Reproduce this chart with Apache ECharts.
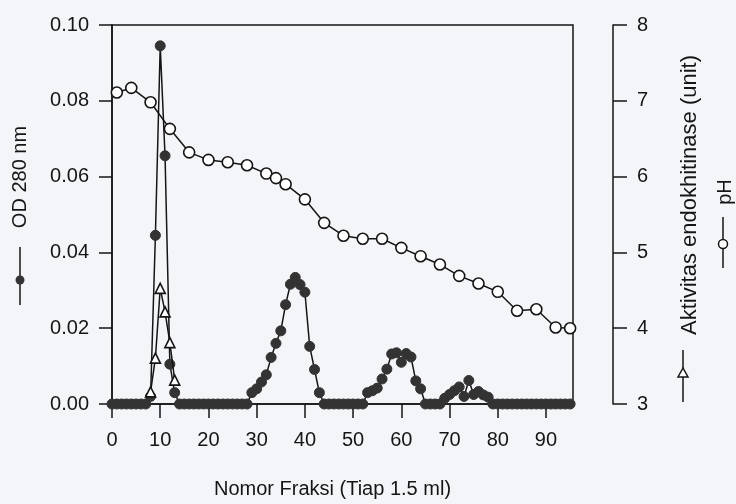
<!DOCTYPE html>
<html>
<head>
<meta charset="utf-8">
<script src="https://cdn.jsdelivr.net/npm/echarts@6/dist/echarts.min.js"></script>
<style>
  html, body { margin:0; padding:0; background:#f3f5f8; }
  #chart { width:736px; height:504px; }
</style>
</head>
<body>
<div id="chart"></div>
<script>
// OD 280 nm, one value per fraction 0..95
var odValues = [
    0, 0, 0, 0, 0, 0, 0, 0, 0.002, 0.0445,
    0.0945, 0.0655, 0.0105, 0.003, 0, 0, 0, 0, 0, 0,
    0, 0, 0, 0, 0, 0, 0, 0, 0, 0.003,
    0.004, 0.0058, 0.0077, 0.0123, 0.016, 0.0193, 0.0262, 0.0316, 0.0334, 0.0315,
    0.0295, 0.0152, 0.0091, 0.003, 0, 0, 0, 0, 0, 0,
    0, 0, 0, 0.003, 0.0035, 0.0042, 0.0066, 0.0092, 0.0132, 0.0135,
    0.011, 0.0133, 0.0124, 0.0061, 0.004, 0, 0, 0, 0, 0.0015,
    0.0025, 0.0035, 0.0045, 0.002, 0.0062, 0.0025, 0.0033, 0.0024, 0.0018, 0,
    0, 0, 0, 0, 0, 0, 0, 0, 0, 0,
    0, 0, 0, 0, 0, 0
];

// endochitinase activity (triangles)
var actFraction = [8, 9, 10, 11, 12, 13];
var actValues = [0.0032, 0.0121, 0.0305, 0.0243, 0.0162, 0.0063];

// pH (open circles)
var phFraction = [1, 4, 8, 12, 16, 20, 24, 28, 32, 34, 36, 40, 44, 48, 52, 56, 60, 64, 68, 72, 76, 80, 84, 88, 92, 95];
var phValues = [7.11, 7.17, 6.98, 6.63, 6.32, 6.22, 6.19, 6.15, 6.04, 5.98, 5.90, 5.70, 5.39, 5.22, 5.18, 5.18, 5.06, 4.95, 4.84, 4.69, 4.59, 4.48, 4.23, 4.25, 4.01, 4.00];

var xTicks = [0, 10, 20, 30, 40, 50, 60, 70, 80, 90];

var odData = odValues.map(function (v, i) { return [i, v]; });
var actData = actFraction.map(function (f, i) { return [f, actValues[i]]; });
var phData = phFraction.map(function (f, i) { return [f, phValues[i]]; });

var ink = '#151515';
var fontFam = '"Liberation Sans", Arial, sans-serif';

var chart = echarts.init(document.getElementById('chart'));
chart.setOption({
    animation: false,
    backgroundColor: '#f3f5f8',
    textStyle: { fontFamily: fontFam, color: ink },
    grid: {
        left: 112, right: 163, top: 25, bottom: 99,
        show: true, borderColor: ink, borderWidth: 1.5
    },
    xAxis: {
        type: 'value',
        min: 0,
        max: 95.6,
        splitLine: { show: false },
        axisLine: { lineStyle: { color: ink, width: 1.5 } },
        axisTick: { length: 14, lineStyle: { color: ink, width: 1.5 }, customValues: xTicks },
        axisLabel: { customValues: xTicks, fontSize: 20, color: ink, margin: 26 },
        name: 'Nomor Fraksi (Tiap 1.5 ml)',
        nameLocation: 'middle',
        nameGap: 75,
        nameTextStyle: { fontSize: 20, color: ink, padding: [0, 20, 0, 0] }
    },
    yAxis: [
        {
            type: 'value',
            min: 0, max: 0.1, interval: 0.02,
            splitLine: { show: false },
            axisLine: { show: true, lineStyle: { color: ink, width: 1.5 } },
            axisTick: { length: 13, lineStyle: { color: ink, width: 1.5 } },
            axisLabel: {
                fontSize: 20, color: ink, margin: 23,
                formatter: function (v) { return v.toFixed(2); }
            }
        },
        {
            type: 'value',
            position: 'right',
            offset: 40,
            min: 3, max: 8, interval: 1,
            splitLine: { show: false },
            axisLine: { show: true, lineStyle: { color: ink, width: 1.5 } },
            axisTick: { length: 14, lineStyle: { color: ink, width: 1.5 } },
            axisLabel: { fontSize: 20, color: ink, margin: 24 }
        }
    ],
    series: [
        {
            name: 'pH', type: 'line', yAxisIndex: 1,
            data: phData,
            symbol: 'circle', symbolSize: 11,
            lineStyle: { color: ink, width: 1.5 },
            itemStyle: { color: '#fff', borderColor: ink, borderWidth: 1.6 },
            z: 2
        },
        {
            name: 'OD 280 nm', type: 'line',
            data: odData,
            symbol: 'circle', symbolSize: 10,
            lineStyle: { color: ink, width: 1.5 },
            itemStyle: { color: '#333', borderColor: '#333', borderWidth: 1 },
            z: 3
        },
        {
            name: 'Aktivitas endokhitinase', type: 'line',
            data: actData,
            symbol: 'triangle', symbolSize: 10,
            lineStyle: { color: ink, width: 1.5 },
            itemStyle: { color: '#fff', borderColor: ink, borderWidth: 1.6 },
            z: 4
        }
    ],
    graphic: [
        // left axis title with its marker
        {
            type: 'text', x: 20, y: 177, rotation: Math.PI / 2,
            style: { text: 'OD 280 nm', font: '20px ' + fontFam, fill: ink,
                     align: 'center', verticalAlign: 'middle', textAlign: 'center', textVerticalAlign: 'middle' }
        },
        { type: 'line', shape: { x1: 20, y1: 247, x2: 20, y2: 305 }, style: { stroke: ink, lineWidth: 1.5 } },
        { type: 'circle', shape: { cx: 20, cy: 280, r: 4.5 }, style: { fill: '#333' } },

        // right titles
        {
            type: 'text', x: 690, y: 195, rotation: Math.PI / 2,
            style: { text: 'Aktivitas endokhitinase (unit)', font: '22px ' + fontFam, fill: ink,
                     align: 'center', verticalAlign: 'middle', textAlign: 'center', textVerticalAlign: 'middle' }
        },
        { type: 'line', shape: { x1: 683, y1: 350, x2: 683, y2: 402 }, style: { stroke: ink, lineWidth: 1.5 } },
        {
            type: 'polygon', shape: { points: [[683, 368], [678, 377], [688, 377]] },
            style: { fill: '#fff', stroke: ink, lineWidth: 1.5 }
        },
        {
            type: 'text', x: 725, y: 192, rotation: Math.PI / 2,
            style: { text: 'pH', font: '20px ' + fontFam, fill: ink,
                     align: 'center', verticalAlign: 'middle', textAlign: 'center', textVerticalAlign: 'middle' }
        },
        { type: 'line', shape: { x1: 723, y1: 217, x2: 723, y2: 268 }, style: { stroke: ink, lineWidth: 1.5 } },
        { type: 'circle', shape: { cx: 723, cy: 244, r: 4.5 }, style: { fill: '#fff', stroke: ink, lineWidth: 1.5 } }
    ]
});
</script>
</body>
</html>
